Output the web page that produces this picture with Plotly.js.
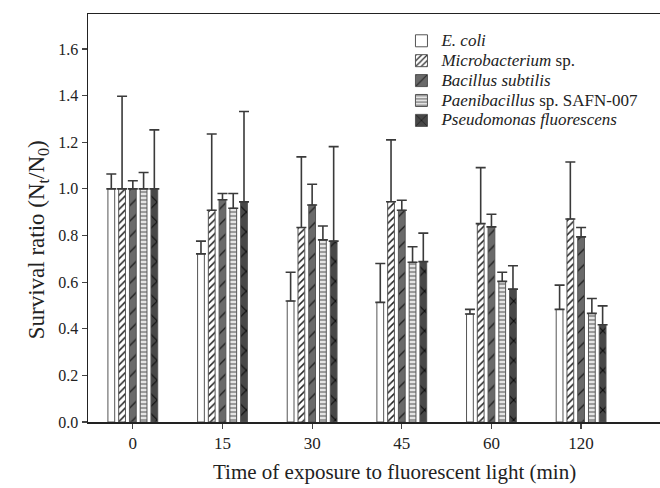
<!DOCTYPE html>
<html>
<head>
<meta charset="utf-8">
<script src="https://cdn.plot.ly/plotly-3.0.1.min.js"></script>
<style>html,body{margin:0;padding:0;background:#fff;}#chart{width:660px;height:488px;}</style>
</head>
<body>
<div id="chart"></div>
<script>
const categories = ['0', '15', '30', '45', '60', '120'];

const ecoli = [1.0, 0.721, 0.519, 0.513, 0.463, 0.483];
const ecoliErr = [0.064, 0.055, 0.123, 0.167, 0.020, 0.104];

const microbacterium = [1.0, 0.908, 0.834, 0.945, 0.851, 0.871];
const microbacteriumErr = [0.397, 0.327, 0.303, 0.265, 0.240, 0.244];

const bacillus = [1.0, 0.953, 0.931, 0.908, 0.837, 0.794];
const bacillusErr = [0.035, 0.027, 0.089, 0.043, 0.054, 0.040];

const paenibacillus = [1.0, 0.917, 0.781, 0.685, 0.603, 0.466];
const paenibacillusErr = [0.070, 0.063, 0.060, 0.067, 0.039, 0.064];

const pseudomonas = [1.0, 0.944, 0.776, 0.688, 0.570, 0.417];
const pseudomonasErr = [0.253, 0.388, 0.405, 0.122, 0.100, 0.081];

const seriesNames = [
  '<i>E. coli</i>',
  '<i>Microbacterium</i> sp.',
  '<i>Bacillus subtilis</i>',
  '<i>Paenibacillus</i> sp. SAFN-007',
  '<i>Pseudomonas fluorescens</i>'
];

const xTitle = 'Time of exposure to fluorescent light (min)';
const yTitle = 'Survival ratio (N<sub>t</sub>/N<sub>0</sub>)';

const styles = [
  {bg: '#ffffff', fg: '#ffffff', shape: '', size: 8, solidity: 0.3},
  {bg: '#ffffff', fg: '#222222', shape: '/', size: 5, solidity: 0.3},
  {bg: '#6a6a6a', fg: '#1e1e1e', shape: '/', size: 11, solidity: 0.12},
  {bg: '#e4e4e4', fg: '#6a6a6a', shape: '-', size: 4, solidity: 0.3},
  {bg: '#484848', fg: '#0a0a0a', shape: 'x', size: 14, solidity: 0.14}
];

const values = [ecoli, microbacterium, bacillus, paenibacillus, pseudomonas];
const errs = [ecoliErr, microbacteriumErr, bacillusErr, paenibacillusErr, pseudomonasErr];

const traces = values.map((v, i) => ({
  type: 'bar',
  x: categories,
  y: v,
  name: '<span style="font-size:17px">' + seriesNames[i] + '</span>',
  marker: {
    color: styles[i].bg,
    line: {color: '#555555', width: 1},
    pattern: {
      shape: styles[i].shape,
      bgcolor: styles[i].bg,
      fgcolor: styles[i].fg,
      size: styles[i].size,
      solidity: styles[i].solidity,
      fillmode: 'replace'
    }
  },
  error_y: {
    type: 'data',
    symmetric: false,
    array: errs[i],
    arrayminus: errs[i].map(() => 0),
    color: '#3a3a3a',
    thickness: 1.6,
    width: 5
  },
  hoverinfo: 'skip'
}));

const font = 'Liberation Serif, Times New Roman, serif';

const layout = {
  width: 660,
  height: 488,
  margin: {l: 88, r: 0, t: 14, b: 66},
  paper_bgcolor: '#ffffff',
  plot_bgcolor: '#ffffff',
  barmode: 'group',
  bargap: 0.40,
  bargroupgap: 0.37,
  showlegend: true,
  legend: {
    x: 0.548, xanchor: 'left',
    y: 0.971, yanchor: 'top',
    font: {family: font, size: 13, color: '#222'},
    bgcolor: 'rgba(0,0,0,0)',
    tracegroupgap: 0,
    itemwidth: 30
  },
  annotations: [
    {
      text: xTitle,
      xref: 'paper', yref: 'paper',
      x: 0.535, y: -0.088,
      xanchor: 'center', yanchor: 'top',
      showarrow: false,
      font: {family: font, size: 21, color: '#222'}
    },
    {
      text: yTitle,
      xref: 'paper', yref: 'paper',
      x: -0.087, y: 0.446,
      xanchor: 'center', yanchor: 'middle',
      textangle: -90,
      showarrow: false,
      font: {family: font, size: 23, color: '#222'}
    }
  ],
  xaxis: {
    type: 'category',
    range: [-0.5, 5.88],
    showline: true,
    linecolor: '#222',
    linewidth: 1.5,
    mirror: true,
    ticks: 'outside',
    ticklen: 5,
    tickcolor: '#444',
    tickwidth: 1.2,
    showgrid: false,
    zeroline: false,
    tickfont: {family: font, size: 17, color: '#222'}
  },
  yaxis: {
    range: [0, 1.75],
    tickvals: [0, 0.2, 0.4, 0.6, 0.8, 1.0, 1.2, 1.4, 1.6],
    ticktext: ['0.0', '0.2', '0.4', '0.6', '0.8', '1.0', '1.2', '1.4', '1.6'],
    showline: true,
    linecolor: '#222',
    linewidth: 1.5,
    mirror: false,
    ticks: 'outside',
    ticklen: 5,
    tickcolor: '#444',
    tickwidth: 1.2,
    showgrid: false,
    zeroline: false,
    tickfont: {family: font, size: 16, color: '#222'}
  }
};

Plotly.newPlot('chart', traces, layout, {displayModeBar: false, staticPlot: true});
</script>
</body>
</html>
